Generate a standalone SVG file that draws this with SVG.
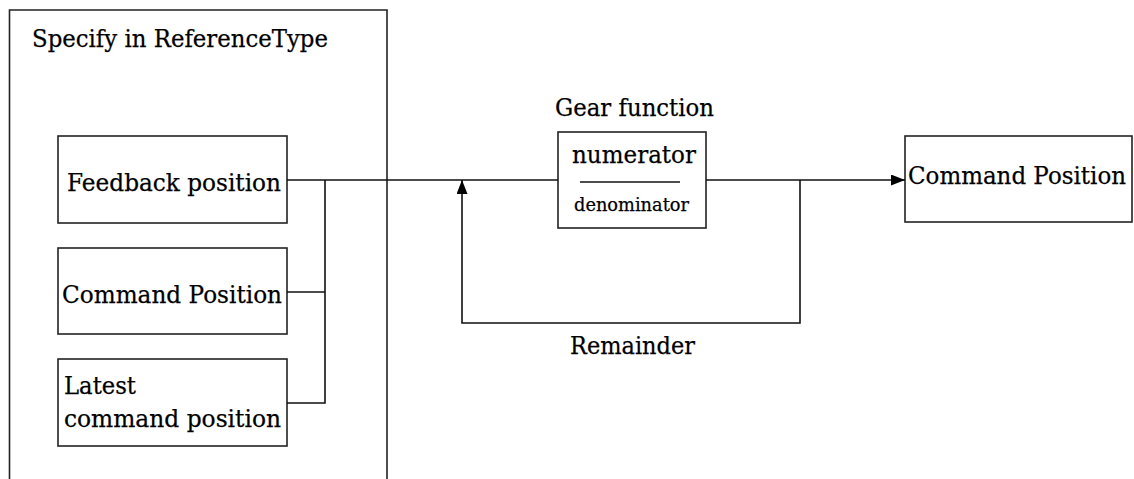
<svg xmlns="http://www.w3.org/2000/svg" width="1134" height="479" viewBox="0 0 1134 479">
<defs>
<style>
.box{fill:#fff;stroke:#222;stroke-width:1.6}
.ln{fill:none;stroke:#111;stroke-width:1.6}
text{font-family:"DejaVu Serif","Liberation Serif",serif;font-size:25px;fill:#000;stroke:#000;stroke-width:0.25}
.sm{font-size:19px}
</style>
<marker id="ah" markerWidth="14" markerHeight="11" refX="14" refY="5.5" orient="auto" markerUnits="userSpaceOnUse">
<path d="M0,0 L14,5.5 L0,11 Z" fill="#000"/>
</marker>
</defs>
<g id="container">
<path class="box" d="M9.5,485 L9.5,10 L387,10 L387,485"/>
<text x="32" y="47" textLength="296" lengthAdjust="spacingAndGlyphs">Specify in ReferenceType</text>
</g>
<g id="feedback">
<rect class="box" x="58" y="136" width="229" height="87"/>
<text x="67" y="191" textLength="214" lengthAdjust="spacingAndGlyphs">Feedback position</text>
</g>
<g id="command">
<rect class="box" x="58" y="248" width="229" height="86"/>
<text x="62" y="303" textLength="220" lengthAdjust="spacingAndGlyphs">Command Position</text>
</g>
<g id="latest">
<rect class="box" x="58" y="359" width="229" height="87"/>
<text x="64" y="394" textLength="72" lengthAdjust="spacingAndGlyphs">Latest</text>
<text x="64" y="427" textLength="217" lengthAdjust="spacingAndGlyphs">command position</text>
</g>
<g id="gear">
<text x="555" y="116" textLength="159" lengthAdjust="spacingAndGlyphs">Gear function</text>
<rect class="box" x="558" y="132" width="148" height="96"/>
<text x="572" y="163" textLength="124" lengthAdjust="spacingAndGlyphs">numerator</text>
<line class="ln" x1="580" y1="182" x2="680" y2="182"/>
<text class="sm" x="574" y="211" textLength="115" lengthAdjust="spacingAndGlyphs">denominator</text>
</g>
<g id="output">
<rect class="box" x="905" y="136" width="227" height="86"/>
<text x="908" y="184" textLength="218" lengthAdjust="spacingAndGlyphs">Command Position</text>
</g>
<g id="remainder">
<text x="570" y="354" textLength="125" lengthAdjust="spacingAndGlyphs">Remainder</text>
</g>
<g id="connectors">
<path class="ln" d="M287,180 L558,180"/>
<path class="ln" d="M287,292 L325,292"/>
<path class="ln" d="M287,403 L325,403 L325,180"/>
<path class="ln" d="M706,180 L905,180" marker-end="url(#ah)"/>
<path class="ln" d="M800,180 L800,323 L462,323 L462,180" marker-end="url(#ah)"/>
</g>
</svg>
